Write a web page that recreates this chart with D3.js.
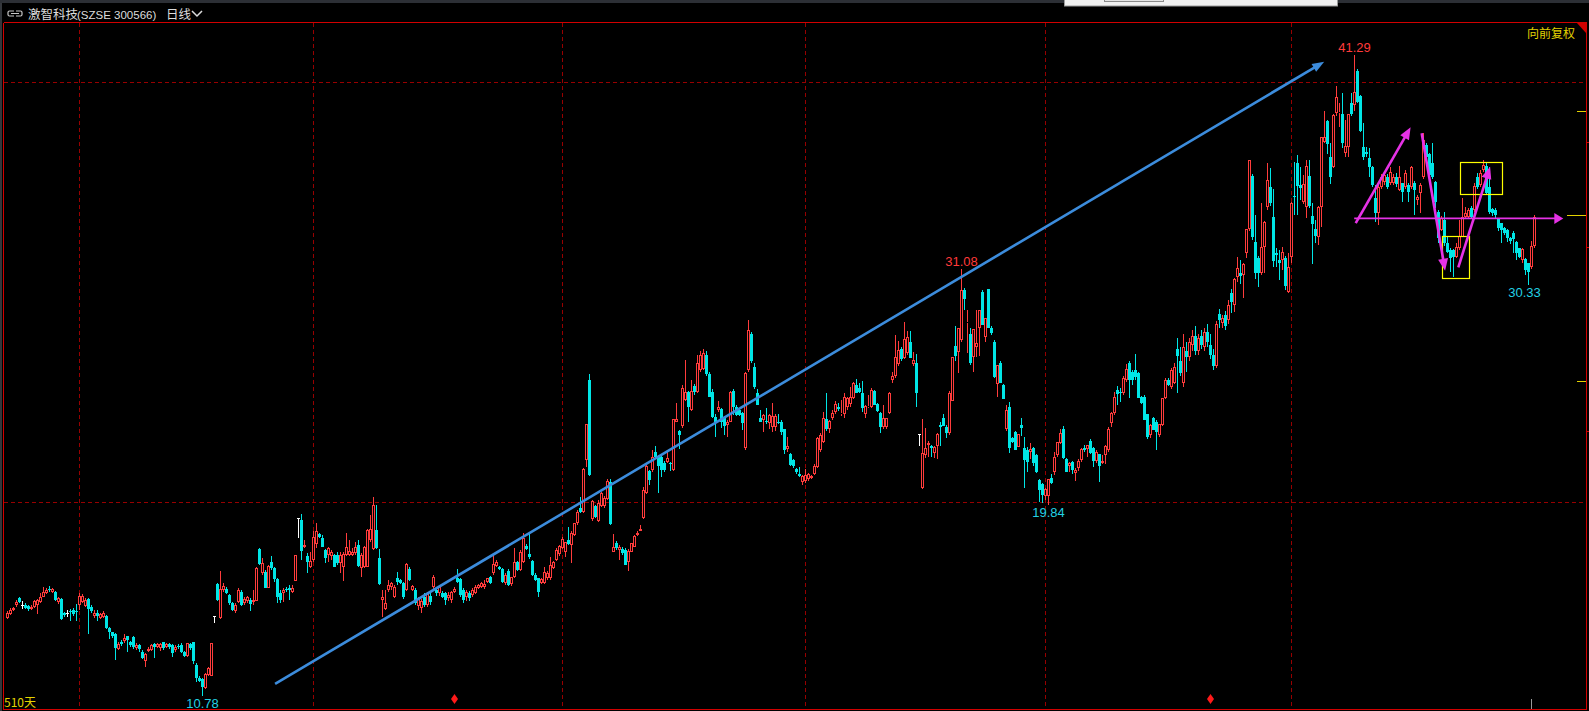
<!DOCTYPE html>
<html><head><meta charset="utf-8">
<script src="https://cdn.jsdelivr.net/npm/d3@7/dist/d3.min.js"></script>
<style>html,body{margin:0;padding:0;background:#000;overflow:hidden}svg{display:block}</style>
</head><body>
<svg id="chart" width="1589" height="711"></svg>
<script>
// ---------- DATA (daily OHLC, 510 days) ----------
const opens = [
14.47,14.68,14.87,15.10,15.42,15.10,15.10,15.06,14.93,14.99,
15.10,15.26,15.50,15.69,15.87,15.74,15.74,15.26,15.39,14.71,
14.71,14.83,14.87,14.83,15.10,15.26,15.06,15.39,15.02,14.58,
14.74,14.47,14.55,14.58,13.99,13.79,13.72,13.01,13.36,13.40,
13.60,13.33,13.58,13.04,13.20,12.88,12.41,12.93,12.96,13.25,
13.12,13.04,13.33,13.12,13.23,13.20,12.96,13.17,13.20,12.85,
12.69,13.25,13.33,12.25,11.64,11.56,11.14,11.77,11.74,14.58,
16.10,14.47,15.82,15.85,15.58,15.18,14.83,15.26,15.74,15.21,
15.31,15.34,15.26,15.31,17.77,16.61,16.69,15.93,17.17,16.85,
16.33,15.69,15.66,15.87,15.93,15.74,16.26,19.23,19.15,17.85,
17.41,16.93,17.25,18.01,18.47,18.28,17.72,17.48,17.41,17.48,
17.48,17.09,16.90,17.48,17.48,17.48,17.56,17.96,16.85,16.93,
16.93,18.20,17.75,18.68,17.33,15.34,14.90,15.82,15.98,15.50,
16.37,16.29,16.14,15.82,16.82,15.82,15.82,15.05,14.95,15.50,
15.10,15.55,15.94,15.82,15.66,15.66,15.66,15.42,15.34,15.71,
16.37,16.34,15.82,15.50,15.66,15.58,15.66,15.90,15.98,15.94,
16.21,16.45,16.61,16.96,16.90,16.82,16.14,16.74,16.10,16.45,
17.14,16.77,17.17,17.91,17.52,17.20,16.53,16.37,16.17,16.17,
16.37,16.37,16.85,17.25,17.52,17.80,17.64,18.20,17.96,18.44,
18.99,19.71,19.55,22.01,25.82,19.18,19.79,19.10,19.79,19.79,
20.14,20.98,17.64,18.07,17.72,17.75,17.72,17.17,17.64,17.88,
18.44,18.64,19.23,20.45,21.48,21.53,22.37,22.20,22.17,21.88,
21.93,21.85,21.53,23.83,23.40,23.60,24.87,25.26,24.39,25.53,
25.26,26.30,26.35,27.00,26.10,25.26,24.07,24.39,24.42,24.04,
23.67,23.83,25.31,24.55,24.39,24.23,22.56,26.30,28.00,26.45,
25.20,23.99,23.91,23.87,23.75,23.59,23.56,23.83,23.83,23.46,
22.53,22.29,22.00,21.56,21.34,20.97,21.02,21.08,21.13,21.34,
21.68,22.48,22.87,23.94,23.46,23.99,24.27,24.51,24.18,24.19,
24.51,24.67,24.94,25.57,25.41,25.18,24.19,24.54,24.54,25.29,
24.67,24.22,23.56,23.56,24.26,25.81,26.00,26.57,27.29,26.84,
27.08,27.64,26.57,26.61,23.22,20.65,22.24,22.72,22.67,22.32,
22.67,23.67,23.99,23.59,23.27,24.83,27.43,27.16,27.72,30.10,
28.51,28.00,26.89,27.37,28.27,30.02,27.88,30.13,28.27,27.64,
25.62,26.61,25.57,23.46,24.54,23.03,23.32,22.64,23.67,22.56,
22.48,22.37,22.56,22.24,21.05,20.86,20.29,20.29,21.13,21.45,
22.24,22.83,23.46,22.05,21.72,21.89,21.40,21.60,22.00,22.56,
22.51,22.92,22.56,21.97,22.27,21.87,22.24,22.48,23.75,24.22,
25.34,25.26,25.18,25.81,26.61,26.21,26.29,26.16,25.02,25.02,
24.18,23.19,23.99,23.83,23.19,23.67,24.94,25.81,25.49,25.65,
27.29,26.73,25.65,27.19,26.90,27.50,27.90,27.20,27.90,27.40,
28.10,27.50,27.00,26.50,28.95,28.55,28.90,28.67,29.94,29.38,
30.70,30.89,30.81,31.88,32.99,35.53,32.40,31.61,30.89,32.13,
34.03,34.99,33.59,31.84,31.53,31.53,31.61,30.02,31.65,34.57,
36.13,35.10,34.30,34.03,35.53,33.62,32.99,32.61,34.07,37.16,
38.15,36.42,35.97,38.54,38.51,38.48,36.61,36.89,39.02,38.90,
40.53,39.34,36.92,36.69,36.37,35.97,34.46,33.75,35.02,35.26,
35.50,35.18,35.21,35.50,34.86,35.18,35.02,35.10,35.02,35.18,
34.38,34.70,35.50,37.00,36.58,36.13,35.26,33.83,32.96,33.43,
32.32,32.00,32.00,31.69,32.08,32.64,33.59,33.59,33.99,33.91,
35.50,35.10,35.81,36.00,35.02,33.94,33.91,33.46,33.27,33.04,
32.96,32.56,32.80,32.40,32.08,31.53,31.56,31.37,31.21,32.19];
const highs = [
14.79,14.95,15.02,15.34,15.50,15.29,15.18,15.10,15.10,15.34,
15.37,15.66,15.95,15.90,15.99,15.93,15.77,15.50,15.42,14.76,
14.87,14.90,14.95,15.15,15.66,15.63,15.42,15.42,15.10,14.87,
14.87,14.74,14.82,14.63,14.04,13.83,13.75,13.36,13.44,13.71,
13.63,13.40,13.60,13.28,13.25,12.96,12.83,13.09,13.25,13.31,
13.31,13.31,13.36,13.31,13.28,13.25,13.20,13.23,13.28,12.93,
13.31,13.31,13.36,12.36,11.72,11.61,11.85,12.14,13.28,14.58,
16.17,16.72,16.14,15.98,15.63,15.26,15.18,15.90,15.82,15.50,
15.53,15.42,15.79,16.90,17.80,17.33,16.77,17.01,17.41,16.93,
16.37,15.79,15.90,15.98,16.06,16.06,17.48,19.23,19.44,18.20,
17.56,17.64,18.60,18.99,18.55,18.44,17.75,17.88,17.72,17.53,
17.64,17.64,17.64,18.55,18.20,17.80,18.12,18.20,17.56,17.91,
18.71,19.39,20.26,19.87,17.75,15.82,15.82,16.29,16.21,16.06,
16.69,16.35,16.20,17.10,16.90,16.05,15.90,15.50,15.40,15.66,
15.70,15.65,16.53,15.90,16.05,15.75,15.70,15.70,15.75,15.95,
16.80,16.40,15.90,15.80,15.75,15.90,16.05,16.10,16.20,16.29,
16.40,16.50,17.52,17.25,16.95,16.85,16.60,16.80,16.45,17.80,
17.20,17.70,18.52,18.00,18.48,17.25,16.60,16.40,16.40,16.93,
16.70,17.37,17.20,17.83,17.95,18.36,18.10,18.79,18.60,19.00,
19.60,20.26,21.60,23.71,26.10,20.10,19.85,20.10,20.50,20.30,
21.10,21.10,18.48,18.15,17.95,17.85,17.80,17.75,18.05,18.45,
18.60,18.91,20.70,21.80,21.55,22.48,22.67,22.25,22.20,21.95,
22.48,21.90,23.94,24.71,23.45,25.58,26.77,25.30,25.82,25.60,
27.00,27.20,27.27,27.20,26.20,25.40,24.20,24.80,24.50,24.10,
23.90,25.30,25.40,24.60,24.50,24.30,26.20,28.67,28.10,26.60,
25.40,24.40,24.20,24.50,24.20,24.70,24.20,24.19,23.90,23.50,
23.11,22.35,22.05,21.60,21.68,21.30,21.56,21.40,21.30,21.80,
23.10,23.27,24.30,25.18,23.90,24.38,24.83,24.70,24.86,25.18,
25.00,25.49,25.73,25.84,25.65,25.76,24.60,25.10,25.41,25.35,
24.70,24.30,24.62,24.00,25.26,26.21,27.95,27.68,27.40,28.59,
28.13,28.16,27.16,27.05,23.22,23.94,23.51,22.90,22.70,22.66,
23.30,23.80,24.19,23.65,25.30,26.92,28.38,28.27,31.08,30.20,
29.15,28.27,28.22,29.15,29.15,30.10,28.75,30.15,28.38,27.70,
26.55,26.70,25.60,24.62,24.78,23.10,23.40,23.26,23.99,23.11,
22.60,22.80,22.60,22.30,21.10,20.90,20.65,21.08,21.34,22.40,
22.85,23.46,23.60,22.10,21.90,21.95,21.60,22.05,22.56,22.72,
22.74,22.99,22.60,22.48,22.30,22.24,22.70,23.59,24.30,25.26,
25.53,25.41,26.00,26.57,26.70,26.30,27.05,26.20,25.05,25.10,
24.20,23.70,24.07,23.90,23.74,24.94,25.89,25.89,26.37,26.60,
27.80,27.37,28.00,27.64,27.80,28.20,28.40,28.00,28.20,28.30,
28.50,28.00,27.30,28.60,29.20,28.90,29.10,29.62,30.13,30.65,
31.68,31.53,31.40,33.00,36.29,35.60,33.67,31.70,34.22,33.40,
36.13,35.89,34.89,32.08,32.00,32.16,31.70,31.84,34.30,36.21,
36.53,35.97,35.57,36.29,36.29,34.26,33.43,34.10,37.40,38.62,
38.20,37.08,38.50,39.81,38.99,39.46,38.19,38.50,39.46,41.29,
40.61,39.40,38.04,36.89,36.85,36.00,35.10,35.10,35.60,35.73,
35.60,35.97,35.60,35.65,36.00,35.20,35.81,35.20,36.00,35.30,
34.60,35.20,37.56,37.08,36.61,37.10,35.30,33.90,33.60,33.83,
32.61,32.10,32.05,32.32,33.43,34.46,34.07,34.00,34.10,35.18,
35.69,35.80,36.30,36.13,35.97,34.00,34.00,33.50,33.30,33.10,
33.00,32.60,32.90,32.45,32.10,32.10,31.60,31.40,32.45,33.67];
const lows = [
14.42,14.63,14.83,15.02,15.18,14.90,14.90,14.83,14.87,14.95,
14.68,15.18,15.47,15.63,15.74,15.69,15.31,15.15,14.39,14.52,
14.55,14.36,14.58,14.36,14.87,15.18,15.02,13.71,14.71,14.47,
14.36,14.42,14.47,13.95,13.47,13.52,12.48,12.96,13.15,13.31,
12.88,13.12,12.99,12.96,12.88,12.52,12.14,12.88,12.90,12.56,
13.04,12.93,12.96,13.04,12.99,12.61,12.88,12.99,12.80,12.61,
12.64,12.96,12.29,11.41,11.41,10.78,11.10,11.72,11.74,14.26,
15.31,14.44,15.74,15.61,15.10,14.79,14.74,15.21,15.06,15.10,
15.18,14.79,15.10,15.28,17.01,16.53,15.90,15.90,16.77,16.21,
15.18,15.18,15.26,15.74,15.34,15.66,16.26,18.31,17.25,17.80,
16.64,16.85,17.17,17.80,18.28,17.85,17.12,17.17,17.25,16.90,
17.01,16.61,16.26,17.41,17.41,17.44,17.48,16.90,16.42,16.85,
16.90,18.12,17.72,17.75,16.06,14.55,14.87,15.74,15.82,15.42,
16.06,16.10,15.40,15.78,16.25,15.75,15.10,14.85,14.72,15.00,
15.00,15.10,15.85,15.55,15.55,15.45,15.10,15.30,15.20,15.65,
16.15,15.50,15.20,15.30,15.30,15.50,15.60,15.85,15.90,15.85,
16.15,16.10,16.55,16.90,16.75,16.15,16.05,16.00,16.00,16.40,
16.70,16.70,17.10,17.70,17.30,16.50,16.25,15.47,16.10,16.10,
16.30,16.30,16.80,17.20,17.45,17.75,17.40,17.95,17.09,18.40,
18.90,19.50,19.50,21.69,21.25,19.10,19.25,19.05,19.75,19.71,
20.10,18.91,17.60,17.70,17.25,17.50,17.00,16.72,17.60,17.85,
18.40,18.60,19.20,20.40,20.82,21.45,22.10,20.42,21.18,21.45,
21.85,21.48,21.50,23.80,22.52,23.55,24.80,23.83,24.35,25.10,
25.20,26.20,26.30,26.00,25.00,24.00,23.12,24.30,23.52,23.20,
23.12,23.80,24.15,24.10,24.10,23.44,22.50,26.20,26.60,25.40,
24.60,23.80,23.35,23.70,23.50,23.35,23.40,23.70,23.20,22.30,
22.40,21.70,21.60,21.34,21.18,20.81,20.89,21.00,21.10,21.30,
21.60,22.40,22.80,23.40,23.27,23.90,24.20,24.35,24.10,23.99,
24.40,24.54,24.90,25.20,25.20,24.30,23.99,24.50,24.50,24.60,
24.30,23.27,23.50,23.50,24.20,25.65,25.90,26.50,26.70,26.80,
27.00,26.84,26.50,24.54,22.68,20.60,22.10,22.13,22.16,22.08,
22.03,22.67,23.60,23.03,23.20,24.80,26.73,26.13,27.60,29.15,
27.11,26.53,26.21,26.89,26.95,28.43,27.64,28.27,27.95,25.90,
24.99,25.65,24.89,23.40,22.35,22.80,22.48,22.60,23.14,20.65,
21.45,22.03,21.72,21.40,20.02,19.94,20.10,19.84,20.86,21.30,
22.16,22.75,22.05,21.45,21.45,21.32,21.02,21.50,21.90,22.40,
22.16,22.30,21.68,21.84,20.97,21.80,21.80,22.40,23.59,24.15,
24.62,24.78,25.10,25.70,24.94,25.57,25.81,24.94,24.68,23.91,
22.99,23.03,23.43,22.48,23.11,23.60,24.90,25.53,25.40,25.60,
25.18,26.00,25.50,26.20,26.70,27.20,27.00,27.00,27.30,27.20,
27.40,26.80,26.30,26.40,28.30,28.30,28.20,28.50,28.99,29.07,
30.49,30.38,29.70,31.60,32.90,32.50,30.61,30.26,30.80,30.89,
33.90,34.10,31.21,31.21,30.57,31.05,30.10,29.95,31.37,33.67,
33.67,34.38,34.20,33.51,34.00,31.34,32.32,32.24,33.11,37.10,
36.57,35.15,35.90,38.40,37.88,36.84,36.45,36.45,38.40,38.60,
39.00,37.60,36.30,36.45,35.50,35.00,33.35,33.21,34.90,35.10,
34.90,35.10,35.10,35.00,34.80,34.30,34.90,34.30,34.90,33.67,
34.15,33.75,35.40,36.30,35.40,35.40,33.99,32.32,32.90,32.20,
31.85,30.97,30.70,31.60,32.00,32.60,33.50,33.50,33.50,33.80,
34.90,35.00,35.70,34.60,33.70,33.60,33.50,32.90,32.32,32.70,
32.40,32.30,31.88,31.53,31.60,31.37,30.81,30.33,31.10,32.10];
const closes = [
14.71,14.87,14.95,15.26,15.26,15.10,14.95,14.90,15.02,15.31,
15.34,15.50,15.74,15.82,15.79,15.87,15.34,15.42,14.44,14.60,
14.71,14.76,14.68,14.76,15.53,15.53,15.34,14.91,14.83,14.74,
14.58,14.68,14.71,13.99,13.83,13.64,13.04,13.25,13.25,13.55,
13.44,13.20,13.12,13.20,13.01,12.56,12.77,13.01,13.20,13.12,
13.23,13.23,13.04,13.25,13.12,12.80,13.12,13.09,12.88,12.69,
13.28,13.04,12.41,11.64,11.50,11.21,11.80,12.09,13.28,14.58,
15.34,15.87,16.01,15.69,15.18,14.87,15.10,15.82,15.10,15.37,
15.47,15.15,15.34,16.85,17.06,17.09,15.93,16.96,16.85,16.33,
15.47,15.34,15.82,15.79,15.82,15.93,17.48,19.23,17.69,17.96,
17.17,17.21,18.36,18.60,18.36,17.88,17.33,17.80,17.64,16.93,
17.09,17.48,17.53,17.85,17.69,17.64,17.85,16.96,17.48,17.85,
18.68,18.71,19.87,17.80,16.10,15.47,15.18,16.06,16.14,15.98,
16.21,16.17,15.50,17.06,16.29,16.01,15.20,15.40,15.30,15.10,
15.60,15.25,16.45,15.66,15.98,15.50,15.34,15.58,15.71,15.85,
16.21,15.58,15.34,15.74,15.42,15.82,15.98,16.06,16.14,16.10,
16.37,16.14,17.06,17.17,16.80,16.21,16.53,16.06,16.42,17.14,
16.77,17.64,18.28,17.75,17.37,16.53,16.29,15.74,16.34,16.66,
16.61,17.01,17.17,17.72,17.91,18.23,18.12,17.99,18.52,18.99,
19.55,19.55,21.58,23.71,21.29,20.06,19.31,19.98,20.42,20.18,
21.02,18.96,17.88,17.80,17.88,17.56,17.01,17.69,18.04,18.39,
18.55,18.72,20.58,21.72,21.06,22.17,22.17,21.72,21.53,21.53,
22.09,21.80,23.94,23.94,23.20,25.42,25.26,24.55,25.31,25.26,
26.60,27.00,27.10,26.10,25.02,24.07,23.83,24.55,23.79,23.64,
23.83,25.26,24.55,24.15,24.15,23.75,26.14,28.20,26.70,25.50,
24.63,23.83,24.15,23.79,24.15,24.10,24.10,23.75,23.35,22.48,
22.67,21.76,21.73,21.45,21.26,21.24,21.29,21.34,21.24,21.72,
23.03,23.19,23.99,23.46,23.87,24.22,24.67,24.42,24.26,25.02,
24.94,24.99,25.65,25.21,25.26,24.46,24.57,24.57,25.34,24.62,
24.35,23.59,23.99,23.99,25.18,26.00,26.89,27.24,26.80,27.75,
27.88,26.84,26.76,25.21,23.22,22.35,22.56,22.83,22.56,22.64,
23.24,23.56,23.62,23.27,25.21,26.92,26.95,28.27,30.10,29.65,
28.59,26.64,28.22,27.56,29.15,28.43,28.75,28.27,28.03,25.94,
26.53,25.65,24.89,24.38,22.56,22.87,22.48,23.24,23.51,22.00,
21.92,22.53,21.84,21.42,20.57,20.34,20.60,21.08,20.89,22.16,
22.84,23.27,22.08,21.45,21.87,21.53,21.53,21.95,22.53,22.48,
22.72,22.32,21.95,22.40,21.72,21.95,22.67,23.46,24.22,25.02,
25.15,25.18,25.89,26.34,25.81,25.81,25.97,24.94,24.70,23.91,
23.11,23.67,23.43,23.35,23.72,24.94,25.81,25.57,26.29,26.45,
26.95,26.13,27.37,26.89,27.60,27.90,27.20,27.80,27.50,28.10,
27.60,27.00,26.50,28.50,28.67,28.75,28.40,29.38,29.54,30.61,
31.13,30.76,31.34,32.99,36.29,32.64,30.92,30.89,32.13,33.32,
35.34,34.26,31.49,31.76,31.37,31.92,30.30,31.18,34.26,34.51,
35.07,34.97,35.13,36.00,34.10,33.24,32.67,34.03,37.40,37.40,
37.05,35.49,38.43,39.27,38.59,37.08,36.96,38.48,38.48,39.52,
39.07,37.68,36.42,36.58,35.97,35.10,33.78,35.02,35.50,35.58,
35.02,35.73,35.50,35.15,35.50,34.78,35.69,34.78,35.97,34.86,
34.54,35.10,37.24,36.45,35.58,35.50,34.30,32.56,33.51,32.32,
31.92,31.61,31.69,32.16,32.67,33.59,33.75,33.91,33.59,35.05,
35.02,35.65,36.05,34.70,33.83,33.78,33.67,33.04,32.96,32.80,
32.56,32.45,32.51,31.85,31.69,32.04,31.05,30.97,32.19,33.59];

// grid / markers / labels
const monthStartIdx = [24, 102, 185, 266, 346, 428];
const gridPrices = [40, 20];
const signalIdx = [149, 401];
const extremeIdx = [449, 318, 347, 65, 507];
const extremeKind = ['high', 'high', 'low', 'low', 'low'];
const axisMarkYellow = [38.62, 33.67, 25.77];
const axisMarkRed = [37.15, 32.15, 23.40];
// drawn annotations, in [day index, price]
const trendArrow = [[89.2, 11.34], [438.9, 40.97]];
const wArrows = [
  [[449.4, 33.28], [467.7, 37.85]],
  [[471.4, 37.56], [479.2, 31.02]],
  [[483.6, 31.18], [494.2, 35.97]]
];
const levelArrow = [[448.9, 33.51], [518.6, 33.51]];
const boxes = [
  [[484.3, 36.18], [498.4, 34.66]],
  [[478.3, 32.67], [487.4, 30.66]]
];

// ---------- DRAW ----------
(function draw() {
const W = 1589, H = 711;
const RED = '#ff3c3c', CYAN = '#00e6e6', WHITE = '#ffffff';
const GRID = '#970000', FRAME = '#d20000', YEL = '#e3d200', MAG = '#e632e6', BLUE = '#3c8cdc';
const svg = d3.select('#chart');
const n = opens.length;
const x = d3.scaleLinear().domain([0, 509]).range([7.5, 1534.5]);
const y = d3.scaleLinear().domain([10.78, 41.29]).range([695.7, 55]);
const ry = v => Math.round(y(v));

svg.append('rect').attr('width', W).attr('height', H).attr('fill', '#000');
svg.append('rect').attr('x', 0).attr('y', 0).attr('width', W).attr('height', 3).attr('fill', '#2c2f35');
svg.append('rect').attr('x', 0).attr('y', 3).attr('width', 2).attr('height', H).attr('fill', '#34373c');

// popup remnant at top
svg.append('rect').attr('x', 1064.5).attr('y', -1).attr('width', 273).attr('height', 7).attr('fill', '#f0f0f0').attr('stroke', '#9a9a9a');
svg.append('rect').attr('x', 1104.5).attr('y', -1).attr('width', 59).attr('height', 2.5).attr('fill', '#e4e4e4').attr('stroke', '#8a8a8a');

const grid = svg.append('g').attr('shape-rendering', 'crispEdges');
grid.selectAll('line.v').data(monthStartIdx).join('line')
  .attr('x1', d => x(d)).attr('x2', d => x(d)).attr('y1', 23).attr('y2', 709)
  .attr('stroke', GRID).attr('stroke-dasharray', '4,3');
grid.selectAll('line.h').data(gridPrices).join('line')
  .attr('x1', 4).attr('x2', 1586).attr('y1', d => ry(d) + 0.5).attr('y2', d => ry(d) + 0.5)
  .attr('stroke', GRID).attr('stroke-dasharray', '4,3');

// frame
const fr = svg.append('g').attr('shape-rendering', 'crispEdges').attr('stroke', FRAME).attr('stroke-width', 1);
fr.append('line').attr('x1', 3.5).attr('x2', 1586.5).attr('y1', 22.5).attr('y2', 22.5);
fr.append('line').attr('x1', 3.5).attr('x2', 3.5).attr('y1', 22.5).attr('y2', 710);
fr.append('line').attr('x1', 1586.5).attr('x2', 1586.5).attr('y1', 22.5).attr('y2', 710);
fr.append('line').attr('x1', 3.5).attr('x2', 1586.5).attr('y1', 709.5).attr('y2', 709.5);
svg.append('polygon').attr('points', '1577,23 1586,23 1586,33').attr('fill', FRAME);

// axis marks at right edge
const am = svg.append('g').attr('shape-rendering', 'crispEdges');
am.selectAll('line.y').data(axisMarkYellow).join('line')
  .attr('x1', (d, i) => i === 1 ? 1567 : 1577).attr('x2', 1586)
  .attr('y1', d => ry(d) + 0.5).attr('y2', d => ry(d) + 0.5).attr('stroke', YEL);
am.selectAll('line.r').data(axisMarkRed).join('line')
  .attr('x1', 1587).attr('x2', 1589)
  .attr('y1', d => ry(d) + 0.5).attr('y2', d => ry(d) + 0.5).attr('stroke', FRAME);

// candles
const idx = d3.range(n);
const up = idx.filter(i => closes[i] > opens[i]);
const dn = idx.filter(i => closes[i] < opens[i]);
const eq = idx.filter(i => closes[i] === opens[i]);
const gC = svg.append('g').attr('shape-rendering', 'crispEdges');
const bTop = i => ry(Math.max(opens[i], closes[i]));
const bBot = i => ry(Math.min(opens[i], closes[i]));

gC.selectAll('path.uw').data(up).join('path')
  .attr('d', i => `M${x(i)},${ry(highs[i])}V${bTop(i)}M${x(i)},${bBot(i)}V${ry(lows[i])}`)
  .attr('stroke', RED).attr('fill', 'none');
gC.selectAll('rect.ub').data(up).join('rect')
  .attr('x', i => x(i) - 1).attr('y', i => bTop(i) + 0.5).attr('width', 2)
  .attr('height', i => Math.max(bBot(i) - bTop(i) - 1, 0))
  .attr('fill', '#000').attr('stroke', RED);
gC.selectAll('path.dw').data(dn).join('path')
  .attr('d', i => `M${x(i)},${ry(highs[i])}V${Math.max(ry(lows[i]), ry(highs[i]) + 1)}`)
  .attr('stroke', CYAN).attr('fill', 'none');
gC.selectAll('rect.db').data(dn).join('rect')
  .attr('x', i => x(i) - 1.5).attr('y', i => bTop(i)).attr('width', 3)
  .attr('height', i => Math.max(bBot(i) - bTop(i), 1)).attr('fill', CYAN);
gC.selectAll('path.ew').data(eq).join('path')
  .attr('d', i => `M${x(i)},${ry(highs[i])}V${ry(lows[i])}`)
  .attr('stroke', WHITE).attr('fill', 'none');
gC.selectAll('rect.eb').data(eq).join('rect')
  .attr('x', i => x(i) - 1.5).attr('y', i => bTop(i)).attr('width', 3).attr('height', 1).attr('fill', WHITE);

// extreme labels (kept inside the plot on the right)
const LF = '"Liberation Sans", Arial, sans-serif';
svg.selectAll('text.ext').data(extremeIdx).join('text')
  .attr('x', i => Math.min(x(i), 1524.5)).attr('text-anchor', 'middle')
  .attr('y', (i, k) => extremeKind[k] === 'high' ? y(highs[i]) - 3 : y(lows[i]) + 12)
  .attr('font-family', LF).attr('font-size', 13)
  .attr('fill', (i, k) => extremeKind[k] === 'high' ? '#ff3a3a' : '#22d2e4')
  .text((i, k) => (extremeKind[k] === 'high' ? highs[i] : lows[i]).toFixed(2));

// signal diamonds
svg.selectAll('polygon.sig').data(signalIdx).join('polygon')
  .attr('points', i => { const cx = x(i), cy = 699; return `${cx},${cy - 5} ${cx + 3.5},${cy} ${cx},${cy + 5} ${cx - 3.5},${cy}`; })
  .attr('fill', '#ff1a1a');

// current-day tick at bottom
svg.append('line').attr('x1', x(508)).attr('x2', x(508)).attr('y1', 699).attr('y2', 709)
  .attr('stroke', '#9a9a9a').attr('shape-rendering', 'crispEdges');

// arrows
function arrow(g, p1, p2, color, w, hl, hw) {
  const x1 = x(p1[0]), y1 = y(p1[1]), x2 = x(p2[0]), y2 = y(p2[1]);
  const dx = x2 - x1, dy = y2 - y1, L = Math.hypot(dx, dy), ux = dx / L, uy = dy / L;
  const bx = x2 - ux * hl, by = y2 - uy * hl;
  g.append('line').attr('x1', x1).attr('y1', y1).attr('x2', bx + ux * 1).attr('y2', by + uy * 1)
    .attr('stroke', color).attr('stroke-width', w);
  g.append('polygon').attr('points',
    `${x2},${y2} ${bx - uy * hw / 2},${by + ux * hw / 2} ${bx + uy * hw / 2},${by - ux * hw / 2}`)
    .attr('fill', color);
}
const gA = svg.append('g');
arrow(gA, trendArrow[0], trendArrow[1], BLUE, 2.6, 12, 9);

// yellow boxes
svg.selectAll('rect.box').data(boxes).join('rect')
  .attr('x', d => Math.round(x(d[0][0])) + 0.5).attr('y', d => Math.round(y(d[0][1])) + 0.5)
  .attr('width', d => Math.round(x(d[1][0]) - x(d[0][0])))
  .attr('height', d => Math.round(y(d[1][1]) - y(d[0][1])))
  .attr('fill', 'none').attr('stroke', '#ffff00').attr('stroke-width', 1.2);

const gM = svg.append('g');
arrow(gM, levelArrow[0], levelArrow[1], MAG, 1.8, 9, 11);
wArrows.forEach(a => arrow(gM, a[0], a[1], MAG, 2.6, 12, 10));

// header
const hdr = svg.append('g');
hdr.append('path').attr('d', 'M14,11H9.5Q8,11 8,12.5V14.5Q8,16 9.5,16H14M16,11H20.5Q22,11 22,12.5V14.5Q22,16 20.5,16H16M11,13.5H19')
  .attr('fill', 'none').attr('stroke', '#c8c8c8').attr('stroke-width', 1.2);
hdr.append('text').attr('x', 28).attr('y', 18.5).attr('font-family', '"Noto Sans CJK SC", sans-serif')
  .attr('font-size', 12.5).attr('fill', '#dcdcdc').text('激智科技');
hdr.append('text').attr('x', 77).attr('y', 18.5).attr('font-family', LF)
  .attr('font-size', 11.5).attr('fill', '#dcdcdc').text('(SZSE 300566)');
hdr.append('text').attr('x', 166).attr('y', 18.5).attr('font-family', '"Noto Sans CJK SC", sans-serif')
  .attr('font-size', 12.5).attr('fill', '#dcdcdc').text('日线');
hdr.append('path').attr('d', 'M192,11L197,16L202,11').attr('fill', 'none').attr('stroke', '#dcdcdc').attr('stroke-width', 1.5);

svg.append('text').attr('x', 1575).attr('y', 38).attr('text-anchor', 'end')
  .attr('font-family', '"Noto Sans CJK SC", sans-serif').attr('font-size', 12).attr('fill', YEL).text('向前复权');
svg.append('text').attr('x', 4).attr('y', 707)
  .attr('font-family', '"Noto Sans CJK SC", sans-serif').attr('font-size', 12).attr('fill', YEL).text(n + '天');
})();
</script>
</body></html>
